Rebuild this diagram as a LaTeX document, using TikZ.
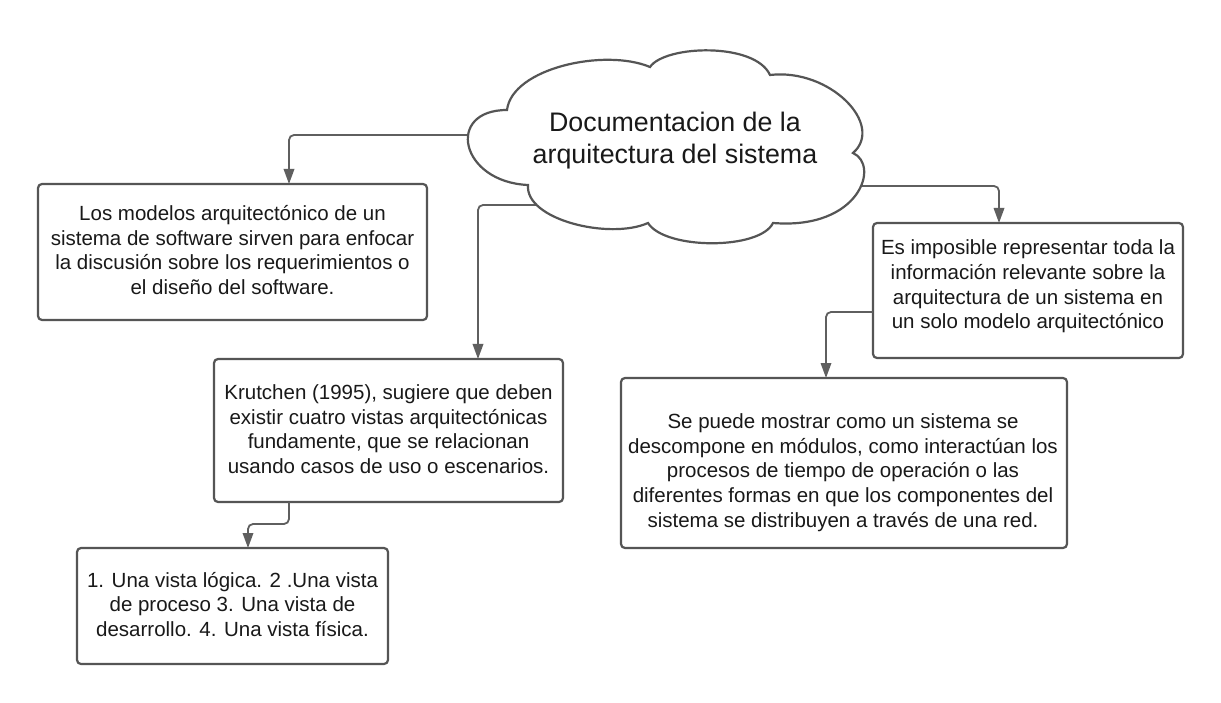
\documentclass[tikz,border=0pt]{standalone}
\usepackage{fontspec}
\setmainfont{Liberation Sans}
\usetikzlibrary{arrows.meta}
\definecolor{linegray}{RGB}{95,95,95}
\definecolor{boxgray}{RGB}{85,85,85}
\definecolor{txt}{RGB}{25,25,25}
\begin{document}
\begin{tikzpicture}[x=1pt,y=-1pt,
  boxnode/.style={draw=boxgray,line width=2.2pt,rounded corners=4pt,inner sep=0pt,outer sep=0pt,fill=white},
  boxtext/.style={text=txt,align=center,inner sep=0pt,font=\fontsize{20.5}{24.6}\selectfont},
  titletext/.style={text=txt,align=center,inner sep=0pt,font=\fontsize{26.8}{32}\selectfont},
  conn/.style={draw=linegray,line width=1.8pt,rounded corners=5pt,-{Triangle[length=15pt,width=10.5pt]}},
  cloudline/.style={draw=boxgray,line width=2.2pt,fill=white}]
\useasboundingbox[fill=white] (0,0) rectangle (1221,703);

% boxes
\node[boxnode,minimum width=389pt,minimum height=136pt] (b1) at (232.5,252) {};
\node[boxnode,minimum width=349pt,minimum height=143pt] (b2) at (388.5,430.5) {};
\node[boxnode,minimum width=310pt,minimum height=135pt] (b3) at (1028,290.5) {};
\node[boxnode,minimum width=311pt,minimum height=116pt] (b4) at (232.5,606) {};
\node[boxnode,minimum width=446pt,minimum height=170pt] (b5) at (844,463) {};

% texts
\node[boxtext] (t1) at (232.5,250) {Los modelos arquitectónico de un\\sistema de software sirven para enfocar\\la discusión sobre los requerimientos o\\el diseño del software.};
\node[boxtext] (t2) at (388.5,429) {Krutchen (1995), sugiere que deben\\existir cuatro vistas arquitectónicas\\fundamente, que se relacionan\\usando casos de uso o escenarios.};
\node[boxtext] (t3) at (1028,286.5) {Es imposible representar toda la\\información relevante sobre la\\arquitectura de un sistema en\\un solo modelo arquitectónico};
\node[boxtext] (t4) at (232.5,604.5) {1. Una vista lógica. 2 .Una vista\\de proceso 3. Una vista de\\desarrollo. 4. Una vista física.};
\node[boxtext] (t5) at (843,472.5) {Se puede mostrar como un sistema se\\descompone en módulos, como interactúan los\\procesos de tiempo de operación o las\\diferentes formas en que los componentes del\\sistema se distribuyen a través de una red.};

% cloud attachment points
\coordinate (clw) at (472,135);
\coordinate (clsw) at (545,205);
\coordinate (cle) at (862,186);

% connectors
\draw[conn] (clw) -| (289,0 |- b1.north);
\draw[conn] (clsw) -| (478,0 |- b2.north);
\draw[conn] (cle) -| (999,0 |- b3.north);
\draw[conn] (873,312) -| (826,0 |- b5.north);
\draw[conn] (289,0 |- b2.south) |- (248,524) -- (248,0 |- b4.north);

% cloud
\draw[cloudline] (528,185)
  .. controls (460,182) and (445,110) .. (507,110)
  .. controls (512,68) and (605,48) .. (650,67)
  .. controls (665,45) and (755,42) .. (770,75)
  .. controls (830,68) and (885,125) .. (853,153)
  .. controls (880,165) and (860,230) .. (773,223)
  .. controls (760,250) and (665,250) .. (648,223)
  .. controls (610,240) and (525,220) .. (528,185) -- cycle;
\node[titletext] (title) at (675,141) {Documentacion de la\\arquitectura del sistema};
\end{tikzpicture}
\end{document}
